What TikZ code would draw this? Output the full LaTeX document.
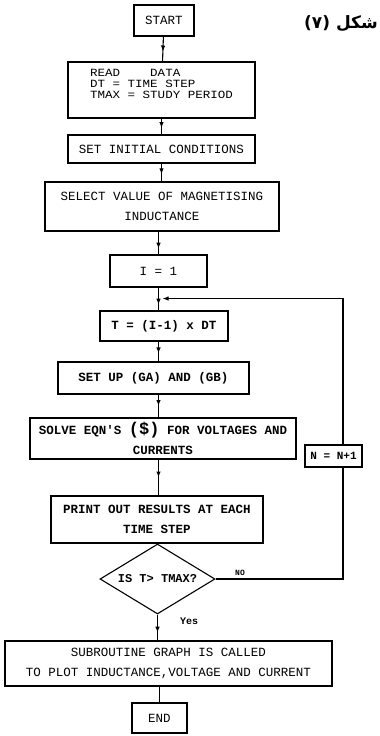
\documentclass[tikz,border=0pt]{standalone}
\usepackage{fontspec}
\setmonofont{Liberation Mono}
\newfontfamily\monowide[FakeStretch=1.14]{Liberation Mono}
\newfontfamily\arabicfont[Script=Arabic]{DejaVu Sans}
\TeXXeTstate=1
\usetikzlibrary{shapes.geometric,arrows.meta,decorations.markings}
\begin{document}
\begin{tikzpicture}[x=1pt,y=-1pt,
  box/.style={draw, line width=1.1pt, rectangle, inner sep=0pt, align=center,
    font=\ttfamily\fontsize{12.5}{20}\selectfont},
  boxb/.style={box, font=\ttfamily\bfseries\fontsize{12.5}{20}\selectfont},
  conn/.style={line width=1.1pt},
  midarrow/.style={conn, postaction={decorate}, decoration={markings,
    mark=at position #1 with {\arrow{Latex[length=6pt,width=4.5pt]}}}},
  lbl/.style={font=\ttfamily\bfseries\fontsize{9}{9}\selectfont, inner sep=0pt}]
\useasboundingbox (0,0) rectangle (380,736);

\node[box, minimum width=60pt, minimum height=31pt] (start) at (164,20.5) {START};
\node[box, align=left, minimum width=187pt, minimum height=56pt,
  font=\monowide\fontsize{11}{11}\selectfont] (read) at (161.5,90)
  {READ\ \ \ \ DATA\\DT = TIME STEP\\TMAX = STUDY PERIOD\\[2pt]\mbox{}};
\node[box, minimum width=187pt, minimum height=28pt] (init) at (161.5,149) {SET INITIAL CONDITIONS};
\node[box, minimum width=234pt, minimum height=49pt] (select) at (162,206.5) {SELECT VALUE OF MAGNETISING\\INDUCTANCE};
\node[box, minimum width=97pt, minimum height=32pt] (ione) at (158.5,271) {I = 1};
\node[boxb, minimum width=128pt, minimum height=30pt] (tbox) at (164,326) {T = (I-1) x DT};
\node[boxb, minimum width=191pt, minimum height=32pt] (setup) at (153.5,378) {SET UP (GA) AND (GB)};
\node[boxb, minimum width=266pt, minimum height=41pt] (solve) at (163,438.5) {SOLVE EQN'S {\fontsize{17}{17}\selectfont(\$)} FOR VOLTAGES AND\\CURRENTS};
\node[boxb, minimum width=212pt, minimum height=47pt] (print) at (157,519.5) {PRINT OUT RESULTS AT EACH\\TIME STEP};
\node[draw, line width=1.1pt, diamond, aspect=1.64, inner sep=0pt, minimum width=115pt, minimum height=70pt,
  font=\ttfamily\bfseries\fontsize{12}{12}\selectfont] (dia) at (157.5,579) {IS T> TMAX?};
\node[box, minimum width=327pt, minimum height=45pt] (sub) at (168.5,663.5) {SUBROUTINE GRAPH IS CALLED\\TO PLOT INDUCTANCE,VOLTAGE AND CURRENT};
\node[box, minimum width=55pt, minimum height=30pt] (end) at (159.5,718) {END};
\node[boxb, minimum width=57pt, minimum height=22pt, font=\ttfamily\bfseries\fontsize{11}{11}\selectfont] (nbox) at (333.5,456) {N = N+1};

\node[lbl, font=\ttfamily\bfseries\fontsize{8}{8}\selectfont] (no) at (240,573) {NO};
\node[lbl, font=\ttfamily\bfseries\fontsize{10}{10}\selectfont] (yes) at (189,621) {Yes};
\node[anchor=east, inner sep=0pt, font=\arabicfont\bfseries\fontsize{17}{17}\selectfont] (title) at (378,24) {\beginR شكل (٧)\endR};

\draw[midarrow=0.6] (start) -- (read);
\draw[midarrow=0.6] (read) -- (init);
\draw[midarrow=0.6] (init) -- (init.south |- select.north);
\draw[midarrow=0.75] (select.south -| ione.south) -- (ione.north);
\path (ione.south) ++(0,11) coordinate (j);
\draw[midarrow=0.75] (ione.south) -- (ione.south |- tbox.north);
\draw[midarrow=0.6] (tbox.south -| j) -- (j |- setup.north);
\draw[midarrow=0.5] (setup.south -| j) -- (j |- solve.north);
\draw[midarrow=0.5] (solve.south -| j) -- (j |- print.north);
\draw[conn] (print.south -| dia.north) -- (dia.north);
\draw[midarrow=0.7] (dia.south) -- (dia.south |- sub.north);
\draw[conn] (sub.south -| end.north) -- (end.north);
\coordinate (cx) at (343,0);
\draw[conn] (dia.east) -- (dia.east -| cx) -- (nbox.south -| cx);
\draw[conn, -{Latex[length=6pt,width=4.5pt]}, shorten >=4pt] (nbox.north -| cx) -- (j -| cx) -- (j);
\end{tikzpicture}
\end{document}
